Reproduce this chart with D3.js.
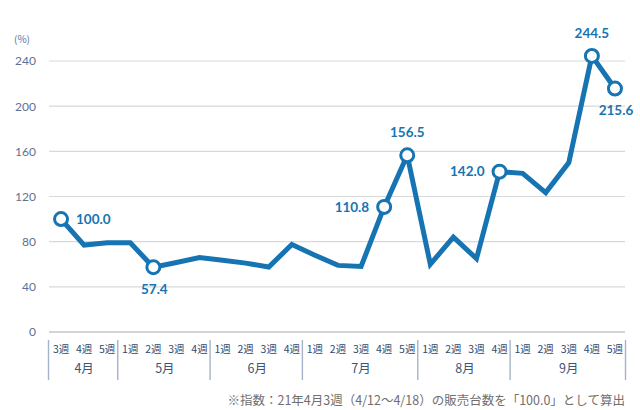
<!DOCTYPE html>
<html>
<head>
<meta charset="utf-8">
<script src="https://cdn.jsdelivr.net/npm/d3@7"></script>
<style>
  html, body { margin: 0; padding: 0; background: #fff; }
  svg { display: block; font-family: "Noto Sans CJK JP", "Noto Sans", sans-serif; }
</style>
</head>
<body>
<svg id="chart" width="640" height="410"></svg>
<script>
/** Months and the weeks shown in each. */
const months = ["4月", "5月", "6月", "7月", "8月", "9月"];
const monthWeeks = [[3, 4, 5], [1, 2, 3, 4], [1, 2, 3, 4], [1, 2, 3, 4, 5], [1, 2, 3, 4], [1, 2, 3, 4, 5]];
/** Sales index per week (4/3週 = 100). */
const values = [100.0, 77, 79, 79, 57.4, 61.5, 66, 63.5, 61, 57.5, 77.5, 68, 59, 58, 110.8, 156.5, 60, 84, 65, 142.0, 140.5, 123.5, 150, 244.5, 215.6];
/** Labelled points: index and label side. */
const labelled = [
  { i: 0, pos: "right" },
  { i: 4, pos: "below" },
  { i: 14, pos: "left" },
  { i: 15, pos: "above" },
  { i: 19, pos: "left" },
  { i: 23, pos: "above" },
  { i: 24, pos: "below" },
];
const yTicks = [0, 40, 80, 120, 160, 200, 240];
const note = "※指数：21年4月3週（4/12〜4/18）の販売台数を「100.0」として算出";

const blue = "#1674b3";
const svg = d3.select("#chart");

/** Flat list of week slots (month index + week number). */
const slots = [];
monthWeeks.forEach((ws, m) => ws.forEach((w) => slots.push({ m, w, key: m + "-" + w })));

const x = d3.scaleBand().domain(slots.map((s) => s.key)).range([49.5, 626.5]);
const y = d3.scaleLinear().domain([0, 240]).range([332, 61]);
const cx = (i) => x(slots[i].key) + x.bandwidth() / 2;

// gridlines
svg.append("g")
  .selectAll("line")
  .data(yTicks)
  .join("line")
  .attr("x1", 49)
  .attr("x2", 625)
  .attr("y1", (d) => y(d))
  .attr("y2", (d) => y(d))
  .attr("stroke", (d) => (d === 0 ? "#d4d4d4" : "#d9d9d9"))
  .attr("stroke-width", (d) => (d === 0 ? 2 : 1.2));

// y axis labels
const yAxis = svg.append("g")
  .attr("transform", "translate(36,0)")
  .call(d3.axisLeft(y).tickValues(yTicks).tickSize(0).tickPadding(0));
yAxis.select(".domain").remove();
yAxis.selectAll("text")
  .attr("fill", "#5d7194")
  .attr("font-size", 12)
  .attr("font-family", "Lato, 'Noto Sans', sans-serif");

svg.append("text")
  .attr("x", 22)
  .attr("y", 43)
  .attr("text-anchor", "middle")
  .attr("fill", "#5d7194")
  .attr("font-size", 10)
  .text("(%)");

// week labels
svg.append("g")
  .selectAll("text")
  .data(slots)
  .join("text")
  .attr("x", (d) => x(d.key) + x.bandwidth() / 2)
  .attr("y", 353)
  .attr("text-anchor", "middle")
  .attr("fill", "#2e4a6e")
  .attr("font-size", 10.5)
  .text((d) => d.w + "週");

// month labels + separators
const bounds = [];
let acc = 0;
monthWeeks.forEach((ws) => {
  bounds.push([acc, acc + ws.length - 1]);
  acc += ws.length;
});
svg.append("g")
  .selectAll("text")
  .data(months)
  .join("text")
  .attr("x", (d, m) => (x(slots[bounds[m][0]].key) + x(slots[bounds[m][1]].key) + x.bandwidth()) / 2)
  .attr("y", 373)
  .attr("text-anchor", "middle")
  .attr("fill", "#3d5577")
  .attr("font-size", 12.5)
  .text((d) => d);

const sepX = bounds.map((b) => x(slots[b[0]].key)).concat([x(slots[slots.length - 1].key) + x.bandwidth()]);
svg.append("g")
  .selectAll("line")
  .data(sepX)
  .join("line")
  .attr("x1", (d) => d - 1)
  .attr("x2", (d) => d - 1)
  .attr("y1", 340)
  .attr("y2", 380)
  .attr("stroke", "#a3b4c8")
  .attr("stroke-width", 1.4);

// line
const line = d3.line().x((d, i) => cx(i)).y((d) => y(d));
svg.append("path")
  .datum(values)
  .attr("d", line)
  .attr("fill", "none")
  .attr("stroke", blue)
  .attr("stroke-width", 5)
  .attr("stroke-linejoin", "miter");

// markers
svg.append("g")
  .selectAll("circle")
  .data(labelled)
  .join("circle")
  .attr("cx", (d) => cx(d.i))
  .attr("cy", (d) => y(values[d.i]))
  .attr("r", 6.5)
  .attr("fill", "#fff")
  .attr("stroke", blue)
  .attr("stroke-width", 3);

// value labels
const off = {
  right: { dx: 15, dy: 0, anchor: "start" },
  left: { dx: -15, dy: 0, anchor: "end" },
  above: { dx: 0, dy: -23, anchor: "middle" },
  below: { dx: 1, dy: 22, anchor: "middle" },
};
svg.append("g")
  .selectAll("text")
  .data(labelled)
  .join("text")
  .attr("x", (d) => cx(d.i) + off[d.pos].dx)
  .attr("y", (d) => y(values[d.i]) + off[d.pos].dy)
  .attr("dy", "0.35em")
  .attr("text-anchor", (d) => off[d.pos].anchor)
  .attr("fill", blue)
  .attr("font-size", 13.5)
  .attr("font-weight", "bold")
  .attr("font-family", "Lato, 'Noto Sans', sans-serif")
  .text((d) => values[d.i].toFixed(1));

// footnote
svg.append("text")
  .attr("x", 625)
  .attr("y", 405)
  .attr("text-anchor", "end")
  .attr("fill", "#6f6f6f")
  .attr("font-size", 12.5)
  .text(note);
</script>
</body>
</html>
